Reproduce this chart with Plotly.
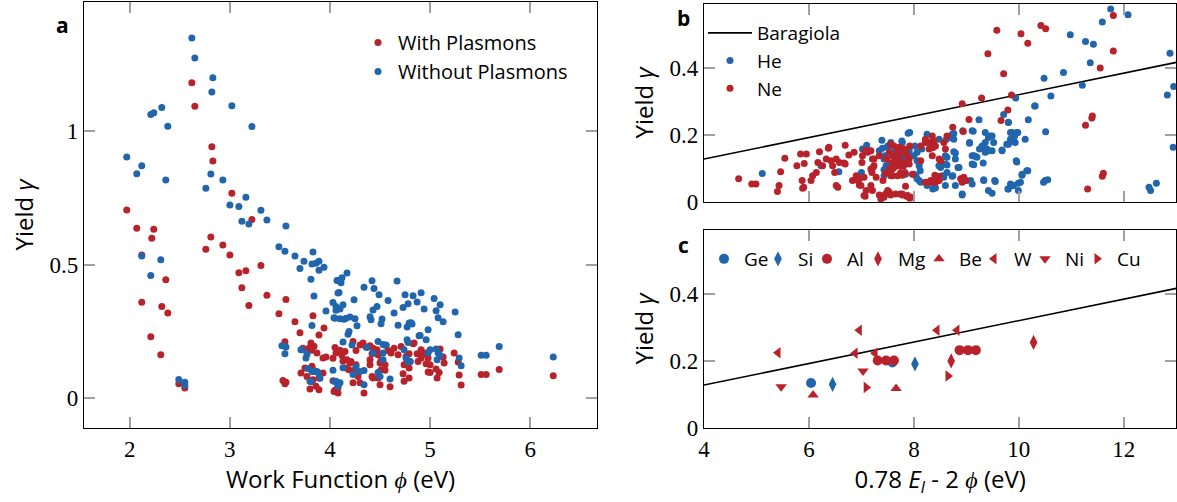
import plotly.graph_objects as go

RED = "#b8232b"
BLUE = "#2166ac"

# ---------------- Panel a: yield vs work function ----------------
a_with_x = [1.97, 2.07, 2.24, 2.22, 2.12, 2.36, 2.12, 2.32, 2.38, 2.21, 2.31, 2.49, 2.55, 2.62, 2.65,
            2.82, 2.83, 3.02, 3.22, 2.81, 2.76, 2.93, 3.00, 3.09, 3.16, 3.31, 3.12, 3.19, 3.37, 3.56,
            3.49, 3.65, 3.70, 3.83, 3.94, 3.89, 3.55, 3.81, 3.84, 3.79, 3.82, 3.87, 3.73, 3.96, 3.93,
            3.71, 3.82, 3.77, 3.81, 3.80, 3.86, 3.89, 3.83, 3.89, 3.93, 3.75, 3.83, 3.53, 3.56, 3.55,
            4.03, 4.05, 4.08, 4.04, 4.08, 4.05, 4.06, 4.03, 4.10, 4.12, 4.15, 4.13, 4.17, 4.21, 4.20,
            4.16, 4.19, 4.23, 4.26, 4.30, 4.33, 4.36, 4.40, 4.43, 4.42, 4.47, 4.48, 4.58, 4.56, 4.61,
            4.68, 4.64, 4.71, 4.76, 4.84, 4.87, 4.88, 4.77, 4.74, 4.79, 4.51, 4.50, 4.55, 4.51, 4.48,
            4.55, 4.40, 4.40, 4.42, 4.43, 4.26, 4.25, 4.28, 4.23, 4.30, 4.34, 4.50, 4.60, 4.73, 4.74,
            4.83, 4.79, 4.80, 4.79, 4.91, 4.92, 4.96, 4.98, 4.91, 5.00, 4.96, 5.10, 5.13, 5.14, 5.06,
            5.09, 4.98, 5.00, 5.07, 5.24, 5.28, 5.29, 5.31, 5.51, 5.56, 5.69, 6.23]
a_with_y = [0.705, 0.637, 0.633, 0.599, 0.537, 0.444, 0.360, 0.344, 0.320, 0.231, 0.163, 0.055, 0.039, 1.182, 1.094,
            0.942, 0.889, 0.768, 0.670, 0.604, 0.558, 0.574, 0.537, 0.470, 0.478, 0.497, 0.414, 0.348, 0.386, 0.370,
            0.317, 0.287, 0.246, 0.309, 0.263, 0.237, 0.212, 0.207, 0.195, 0.188, 0.180, 0.170, 0.188, 0.155, 0.151,
            0.095, 0.120, 0.082, 0.064, 0.035, 0.045, 0.032, 0.070, 0.076, 0.095, 0.114, 0.107, 0.067, 0.060, 0.055,
            0.066, 0.030, 0.040, 0.026, 0.020, 0.190, 0.170, 0.150, 0.180, 0.160, 0.175, 0.140, 0.145, 0.138, 0.132,
            0.114, 0.107, 0.213, 0.179, 0.200, 0.207, 0.192, 0.197, 0.188, 0.167, 0.182, 0.163, 0.179, 0.198, 0.170,
            0.163, 0.188, 0.194, 0.157, 0.207, 0.167, 0.138, 0.135, 0.126, 0.114, 0.142, 0.132, 0.126, 0.107, 0.076,
            0.105, 0.145, 0.126, 0.082, 0.076, 0.126, 0.107, 0.082, 0.058, 0.058, 0.020, 0.051, 0.043, 0.092, 0.064,
            0.204, 0.167, 0.138, 0.076, 0.182, 0.164, 0.170, 0.151, 0.151, 0.126, 0.130, 0.185, 0.155, 0.132, 0.110,
            0.097, 0.099, 0.097, 0.076, 0.170, 0.136, 0.087, 0.050, 0.089, 0.089, 0.108, 0.085]

a_without_x = [1.97, 2.07, 2.12, 2.21, 2.21, 2.24, 2.32, 2.38, 2.36, 2.12, 2.31, 2.49, 2.55, 2.55, 2.62,
               2.65, 2.83, 2.82, 3.02, 3.22, 2.81, 2.93, 2.76, 3.16, 3.00, 3.09, 3.31, 3.12, 3.19, 3.37,
               3.56, 3.49, 3.55, 3.65, 3.83, 3.74, 3.82, 3.86, 3.89, 3.89, 3.94, 3.70, 3.81, 3.84, 3.96,
               4.03, 4.06, 4.08, 4.08, 4.04, 3.82, 3.52, 3.56, 3.55, 3.71, 3.77, 3.76, 3.78, 3.82, 3.87,
               3.90, 3.81, 4.03, 4.04, 4.07, 4.17, 4.12, 4.10, 4.07, 4.11, 4.09, 4.24, 4.42, 4.34, 4.44,
               4.49, 4.67, 4.06, 4.10, 4.13, 4.05, 4.10, 4.14, 4.16, 4.20, 4.25, 4.27, 4.40, 4.41, 4.52,
               4.51, 4.43, 4.47, 4.58, 4.64, 4.68, 4.73, 4.75, 4.83, 4.78, 4.77, 4.79, 4.82, 4.19, 4.18,
               4.13, 4.22, 4.48, 4.53, 4.56, 4.53, 4.53, 4.37, 4.43, 4.74, 4.77, 4.78, 4.76, 4.78, 4.89,
               4.13, 4.23, 4.26, 4.30, 4.34, 4.34, 4.48, 4.50, 4.60, 4.06, 4.10, 4.08, 3.72, 3.84, 3.88,
               3.80, 4.91, 4.87, 5.04, 5.10, 4.94, 5.06, 5.08, 5.13, 5.25, 4.81, 4.98, 4.90, 4.96, 5.28,
               4.98, 5.00, 5.06, 5.08, 5.10, 5.07, 5.29, 5.31, 5.51, 5.56, 5.69, 6.23, 4.80]
a_without_y = [0.904, 0.841, 0.871, 0.460, 1.063, 1.069, 1.089, 1.019, 0.818, 0.533, 0.519, 0.071, 0.060, 0.049, 1.349,
               1.274, 1.200, 1.147, 1.096, 1.018, 0.840, 0.818, 0.787, 0.753, 0.724, 0.718, 0.704, 0.663, 0.653, 0.668,
               0.645, 0.568, 0.551, 0.533, 0.548, 0.513, 0.503, 0.506, 0.513, 0.480, 0.491, 0.486, 0.446, 0.383, 0.327,
               0.359, 0.344, 0.441, 0.394, 0.302, 0.273, 0.197, 0.192, 0.167, 0.182, 0.165, 0.151, 0.112, 0.101, 0.101,
               0.075, 0.062, 0.105, 0.064, 0.058, 0.469, 0.452, 0.441, 0.441, 0.433, 0.396, 0.369, 0.440, 0.416, 0.411,
               0.388, 0.439, 0.330, 0.335, 0.350, 0.300, 0.298, 0.296, 0.300, 0.305, 0.298, 0.272, 0.306, 0.294, 0.297,
               0.279, 0.331, 0.344, 0.366, 0.320, 0.274, 0.340, 0.388, 0.384, 0.354, 0.267, 0.282, 0.278, 0.250, 0.240,
               0.211, 0.200, 0.213, 0.202, 0.200, 0.170, 0.145, 0.190, 0.170, 0.182, 0.219, 0.209, 0.151, 0.136, 0.234,
               0.115, 0.089, 0.117, 0.101, 0.104, 0.051, 0.097, 0.082, 0.072, 0.064, 0.058, 0.045, 0.182, 0.101, 0.097,
               0.064, 0.395, 0.361, 0.374, 0.350, 0.335, 0.328, 0.302, 0.287, 0.323, 0.283, 0.257, 0.235, 0.219, 0.238,
               0.170, 0.182, 0.185, 0.170, 0.160, 0.145, 0.151, 0.122, 0.161, 0.161, 0.194, 0.155, 0.138]

# ---------------- Panel b: yield vs 0.78 E_I - 2 phi ----------------
b_ne_x = [4.66, 4.91, 4.99, 5.46, 5.54, 5.43, 5.40, 5.84, 5.95, 5.77, 5.91, 5.87, 5.90, 6.04, 6.07,
          6.14, 6.17, 6.20, 6.38, 6.42, 6.52, 6.58, 6.45, 6.49, 6.52, 6.55, 6.69, 6.69, 6.86, 6.83,
          6.93, 6.90, 7.01, 7.02, 7.12, 7.18, 7.21, 7.24, 7.20, 7.05, 7.21, 7.36, 7.37, 7.46, 7.51,
          7.41, 7.46, 7.53, 7.59, 7.53, 7.59, 7.62, 7.72, 7.78, 7.70, 7.79, 7.84, 7.91, 7.88, 7.92,
          7.83, 7.88, 7.92, 7.74, 8.13, 8.22, 8.29, 8.35, 8.38, 8.41, 8.29, 8.35, 8.29, 8.38, 8.44,
          5.88, 6.26, 6.33, 6.37, 6.76, 6.67, 6.96, 6.96, 7.05, 6.99, 7.07, 7.09, 7.18, 7.28, 7.34,
          7.43, 7.50, 7.56, 7.65, 7.78, 7.84, 7.86, 7.07, 7.15, 7.34, 7.24, 7.22, 7.18, 7.48, 7.56,
          7.59, 7.65, 7.59, 7.69, 7.72, 7.84, 7.91, 7.78, 7.56, 7.69, 7.78, 8.22, 8.32, 8.38, 8.57,
          8.63, 8.60, 8.48, 8.51, 8.13, 7.81, 7.72, 7.62, 7.78, 7.75, 7.97, 8.22, 8.32, 8.41, 8.48,
          8.89, 8.95, 8.99, 7.78, 7.94, 7.53, 9.58, 10.04, 10.17, 10.42, 10.51, 9.41, 9.71, 9.86, 9.29,
          8.92, 9.79, 9.66, 9.05, 8.74, 8.94, 11.80, 11.80, 11.55, 11.40, 11.39, 11.27, 11.61, 11.59, 11.31,
          8.36, 8.40, 8.41, 8.35, 8.48, 8.98, 8.92]
b_ne_y = [0.069, 0.054, 0.054, 0.090, 0.130, 0.049, 0.031, 0.143, 0.143, 0.108, 0.115, 0.064, 0.044, 0.064, 0.078,
          0.088, 0.118, 0.150, 0.163, 0.123, 0.128, 0.118, 0.108, 0.088, 0.049, 0.044, 0.169, 0.113, 0.148, 0.064,
          0.064, 0.078, 0.118, 0.138, 0.148, 0.153, 0.128, 0.108, 0.088, 0.019, 0.034, 0.019, 0.009, 0.024, 0.031,
          0.064, 0.086, 0.098, 0.078, 0.148, 0.138, 0.167, 0.163, 0.153, 0.108, 0.108, 0.118, 0.128, 0.138, 0.167,
          0.088, 0.019, 0.011, 0.024, 0.167, 0.187, 0.177, 0.197, 0.182, 0.167, 0.158, 0.138, 0.059, 0.064, 0.064,
          0.041, 0.108, 0.128, 0.160, 0.140, 0.116, 0.069, 0.051, 0.074, 0.049, 0.017, 0.034, 0.049, 0.074, 0.021,
          0.014, 0.034, 0.021, 0.024, 0.021, 0.047, 0.017, 0.153, 0.153, 0.138, 0.128, 0.103, 0.098, 0.128, 0.172,
          0.118, 0.123, 0.098, 0.153, 0.138, 0.150, 0.113, 0.108, 0.078, 0.078, 0.080, 0.177, 0.163, 0.169, 0.177,
          0.197, 0.158, 0.128, 0.123, 0.123, 0.158, 0.128, 0.103, 0.113, 0.088, 0.083, 0.059, 0.064, 0.069, 0.077,
          0.069, 0.074, 0.064, 0.024, 0.014, 0.029, 0.512, 0.501, 0.473, 0.526, 0.516, 0.442, 0.382, 0.319, 0.310,
          0.293, 0.274, 0.243, 0.246, 0.223, 0.210, 0.556, 0.450, 0.399, 0.256, 0.250, 0.229, 0.086, 0.077, 0.039,
          0.162, 0.080, 0.059, 0.059, 0.064, 0.064, 0.059]

b_he_x = [5.11, 6.23, 6.57, 7.00, 7.10, 7.02, 7.39, 7.34, 7.43, 7.47, 7.50, 7.56, 7.43, 7.47, 7.72,
          7.77, 7.78, 7.92, 7.81, 8.02, 8.06, 8.10, 8.04, 8.10, 8.25, 8.38, 8.40, 8.48, 8.48, 7.40,
          7.45, 7.50, 7.53, 7.43, 7.62, 7.67, 7.72, 7.78, 7.89, 7.84, 7.56, 7.69, 7.81, 7.91, 8.15,
          8.00, 8.06, 8.10, 8.12, 8.00, 8.06, 8.13, 8.25, 8.36, 8.57, 8.63, 8.51, 8.60, 8.63, 8.76,
          8.79, 8.84, 8.73, 8.79, 8.92, 8.76, 8.93, 8.62, 8.69, 9.11, 9.06, 9.14, 9.20, 9.11, 9.32,
          9.25, 9.24, 9.36, 9.42, 9.49, 9.52, 9.36, 9.42, 9.36, 9.33, 9.68, 9.77, 9.84, 9.90, 9.87,
          9.93, 9.98, 10.12, 10.18, 10.31, 9.80, 9.71, 9.95, 10.15, 10.06, 9.99, 9.88, 9.79, 9.42, 9.55,
          9.33, 9.08, 11.75, 12.08, 11.59, 10.98, 11.27, 11.42, 11.36, 10.85, 10.48, 11.21, 10.61, 9.94, 12.88,
          12.83, 12.95, 12.94, 10.51, 12.48, 12.51, 12.62, 10.50, 10.55, 10.47, 9.13, 9.06, 9.46, 9.30, 9.39,
          9.49, 9.11, 9.17, 9.14, 8.86, 8.79, 8.63, 8.73, 8.76, 8.48, 8.60, 8.48, 8.54, 8.41, 8.60,
          8.74, 8.92, 9.11, 9.33, 9.54, 9.49, 9.84, 9.80, 9.99, 9.90, 10.06, 10.03, 10.17, 9.96, 9.96,
          9.84, 9.87, 9.80, 9.68, 9.92, 9.80, 10.30]
b_he_y = [0.085, 0.108, 0.090, 0.088, 0.169, 0.158, 0.184, 0.153, 0.128, 0.108, 0.167, 0.177, 0.078, 0.088, 0.138,
          0.182, 0.128, 0.207, 0.108, 0.167, 0.148, 0.118, 0.078, 0.064, 0.202, 0.182, 0.044, 0.108, 0.069, 0.160,
          0.138, 0.163, 0.113, 0.096, 0.148, 0.130, 0.153, 0.177, 0.205, 0.083, 0.093, 0.153, 0.143, 0.153, 0.158,
          0.138, 0.123, 0.108, 0.093, 0.083, 0.069, 0.059, 0.049, 0.039, 0.074, 0.088, 0.103, 0.113, 0.133, 0.150,
          0.128, 0.103, 0.077, 0.049, 0.021, 0.204, 0.212, 0.187, 0.192, 0.212, 0.177, 0.138, 0.133, 0.113, 0.116,
          0.158, 0.245, 0.207, 0.192, 0.197, 0.177, 0.177, 0.153, 0.148, 0.163, 0.155, 0.172, 0.187, 0.189, 0.207,
          0.177, 0.207, 0.187, 0.245, 0.286, 0.237, 0.261, 0.123, 0.093, 0.080, 0.056, 0.049, 0.039, 0.034, 0.061,
          0.064, 0.064, 0.575, 0.558, 0.536, 0.498, 0.478, 0.470, 0.415, 0.386, 0.369, 0.348, 0.316, 0.310, 0.443,
          0.319, 0.344, 0.163, 0.209, 0.044, 0.034, 0.056, 0.064, 0.066, 0.059, 0.211, 0.175, 0.197, 0.167, 0.158,
          0.153, 0.138, 0.136, 0.111, 0.103, 0.146, 0.110, 0.202, 0.187, 0.187, 0.138, 0.108, 0.078, 0.042, 0.049,
          0.078, 0.024, 0.054, 0.066, 0.064, 0.026, 0.054, 0.039, 0.034, 0.049, 0.083, 0.059, 0.093, 0.119, 0.207,
          0.207, 0.182, 0.172, 0.153, 0.197, 0.238, 0.286]

# Baragiola model line endpoints
bar_x = [4.0, 13.0]
bar_y = [0.128, 0.416]

# ---------------- Panel c: metals ----------------
metals = ["Ge", "Si", "Al", "Mg", "Be", "W", "Ni", "Cu"]
metal_x = {
    "Ge": [6.04, 7.59],
    "Si": [6.45, 8.02],
    "Al": [7.31, 7.47, 7.62, 8.87, 9.03, 9.18],
    "Mg": [8.71, 10.28],
    "Be": [6.08, 7.66],
    "W":  [5.41, 6.96, 6.88, 7.26, 8.44, 8.82],
    "Ni": [5.47, 7.03],
    "Cu": [7.09, 8.65],
}
metal_y = {
    "Ge": [0.134, 0.195],
    "Si": [0.130, 0.191],
    "Al": [0.201, 0.201, 0.201, 0.232, 0.232, 0.232],
    "Mg": [0.200, 0.255],
    "Be": [0.098, 0.118],
    "W":  [0.224, 0.291, 0.223, 0.223, 0.291, 0.291],
    "Ni": [0.123, 0.170],
    "Cu": [0.121, 0.155],
}
metal_color = {"Ge": BLUE, "Si": BLUE, "Al": RED, "Mg": RED, "Be": RED, "W": RED, "Ni": RED, "Cu": RED}
metal_symbol = {"Ge": "circle", "Si": "diamond-tall", "Al": "circle", "Mg": "diamond-tall",
                "Be": "triangle-up", "W": "triangle-left", "Ni": "triangle-down", "Cu": "triangle-right"}
metal_size = {"Ge": 10, "Si": 11, "Al": 10, "Mg": 11, "Be": 10, "W": 10, "Ni": 10, "Cu": 10}
# legend marker positions (px) for the panel-c key
metal_key_px = {"Ge": 726, "Si": 780, "Al": 829, "Mg": 880, "Be": 941, "W": 996, "Ni": 1047, "Cu": 1099}

# ---------------- figure ----------------
W, H = 1177, 502
SANS = "Open Sans"
SERIF = "Liberation Serif"

fig = go.Figure()

fig.add_trace(go.Scatter(x=a_with_x, y=a_with_y, mode="markers", name="With Plasmons",
                         marker=dict(color=RED, size=7), xaxis="x", yaxis="y", legend="legend"))
fig.add_trace(go.Scatter(x=a_without_x, y=a_without_y, mode="markers", name="Without Plasmons",
                         marker=dict(color=BLUE, size=7), xaxis="x", yaxis="y", legend="legend"))

fig.add_trace(go.Scatter(x=bar_x, y=bar_y, mode="lines", name="Baragiola",
                         line=dict(color="black", width=1.6), xaxis="x2", yaxis="y2", legend="legend2"))
fig.add_trace(go.Scatter(x=b_he_x, y=b_he_y, mode="markers", name="He",
                         marker=dict(color=BLUE, size=7), xaxis="x2", yaxis="y2", legend="legend2"))
fig.add_trace(go.Scatter(x=b_ne_x, y=b_ne_y, mode="markers", name="Ne",
                         marker=dict(color=RED, size=7), xaxis="x2", yaxis="y2", legend="legend2"))

fig.add_trace(go.Scatter(x=bar_x, y=bar_y, mode="lines", showlegend=False,
                         line=dict(color="black", width=1.6), xaxis="x3", yaxis="y3"))

legend_layouts = {}
for i, m in enumerate(metals):
    lid = "legend%d" % (i + 3)
    fig.add_trace(go.Scatter(x=metal_x[m], y=metal_y[m], mode="markers", name=m,
                             marker=dict(color=metal_color[m], size=metal_size[m], symbol=metal_symbol[m]),
                             xaxis="x3", yaxis="y3", legend=lid))
    legend_layouts[lid] = dict(x=(metal_key_px[m] - 22) / W, y=1 - 240 / H, xanchor="left", yanchor="top",
                               bgcolor="rgba(0,0,0,0)", font=dict(family=SANS, size=19, color="black"))

axis_common = dict(showline=True, linecolor="black", linewidth=1.3, mirror="ticks",
                   ticks="inside", ticklen=11, tickwidth=1.5, tickcolor="#a0a0a0",
                   showgrid=False, zeroline=False,
                   tickfont=dict(family=SERIF, size=23, color="black"))
title_font = dict(family=SANS, size=24, color="black")

fig.update_layout(
    width=W, height=H,
    margin=dict(l=0, r=0, t=0, b=0, autoexpand=False),
    paper_bgcolor="white", plot_bgcolor="white",
    xaxis=dict(domain=[84 / W, 597 / W], anchor="y", range=[1.543, 6.667],
               tickvals=[2, 3, 4, 5, 6], ticktext=["2", "3", "4", "5", "6"],
               title=dict(text="Work Function <i>ϕ</i> (eV)", font=title_font, standoff=10),
               **axis_common),
    yaxis=dict(domain=[1 - 428 / H, 1 - 2 / H], anchor="x", range=[-0.111, 1.484],
               tickvals=[0, 0.5, 1], ticktext=["0", "0.5", "1"],
               title=dict(text="Yield <i>γ</i>", font=title_font, standoff=9),
               **axis_common),
    xaxis2=dict(domain=[704 / W, 1176.3 / W], anchor="y2", range=[4, 13],
                tickvals=[4, 6, 8, 10, 12], showticklabels=False, **axis_common),
    yaxis2=dict(domain=[1 - 202 / H, 1 - 4 / H], anchor="x2", range=[0, 0.59],
                tickvals=[0, 0.2, 0.4], ticktext=["0", "0.2", "0.4"],
                title=dict(text="Yield <i>γ</i>", font=title_font, standoff=9),
                **axis_common),
    xaxis3=dict(domain=[704 / W, 1176.3 / W], anchor="y3", range=[4, 13],
                tickvals=[4, 6, 8, 10, 12], ticktext=["4", "6", "8", "10", "12"],
                title=dict(text="0.78 <i>E</i><sub><i>I</i></sub> - 2 <i>ϕ</i> (eV)", font=title_font, standoff=10),
                **axis_common),
    yaxis3=dict(domain=[1 - 428 / H, 1 - 230 / H], anchor="x3", range=[0, 0.59],
                tickvals=[0, 0.2, 0.4], ticktext=["0", "0.2", "0.4"],
                title=dict(text="Yield <i>γ</i>", font=title_font, standoff=9),
                **axis_common),
    legend=dict(x=358 / W, y=1 - 23 / H, xanchor="left", yanchor="top",
                bgcolor="rgba(0,0,0,0)", font=dict(family=SANS, size=20, color="black"),
                tracegroupgap=0),
    legend2=dict(x=703 / W, y=1 - 14 / H, xanchor="left", yanchor="top", itemwidth=44,
                 bgcolor="rgba(0,0,0,0)", font=dict(family=SANS, size=19, color="black")),
    annotations=[
        dict(text="<b>a</b>", x=62 / W, y=1 - 25 / H, xref="paper", yref="paper", showarrow=False,
             font=dict(family=SANS, size=21, color="black"), xanchor="center", yanchor="middle"),
        dict(text="<b>b</b>", x=683 / W, y=1 - 18 / H, xref="paper", yref="paper", showarrow=False,
             font=dict(family=SANS, size=21, color="black"), xanchor="center", yanchor="middle"),
        dict(text="<b>c</b>", x=683 / W, y=1 - 245 / H, xref="paper", yref="paper", showarrow=False,
             font=dict(family=SANS, size=21, color="black"), xanchor="center", yanchor="middle"),
    ],
)
fig.update_layout(**legend_layouts)

# remove the browser's default page margin so the figure sits at the window origin
fig.write_html("out.html", config={"displayModeBar": False},
               post_script="document.body.style.margin='0px';")
